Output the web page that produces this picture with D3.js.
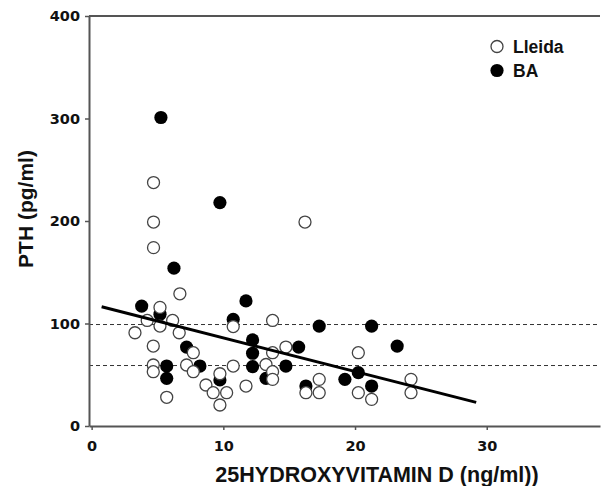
<!doctype html>
<html lang="en">
<head>
<meta charset="utf-8">
<title>PTH vs 25-hydroxyvitamin D</title>
<style>
body { margin: 0; background: #fff; }
svg text { font-family: "Liberation Sans", Arial, sans-serif; font-weight: bold; fill: #111; }
.tick text { font-family: "DejaVu Sans", sans-serif; font-size: 14.5px; }
</style>
</head>
<body>
<svg id="chart" width="602" height="486"></svg>
<script src="https://d3js.org/d3.v7.min.js"></script>
<script>
// 25OHD (ng/ml), PTH (pg/ml)
var lleidaX = [3.29, 4.22, 4.7, 4.7, 4.7, 4.68, 4.68, 4.68, 5.19, 5.19, 5.7, 6.15, 6.7, 6.65,
               7.21, 7.72, 7.72, 8.68, 9.23, 9.74, 9.74, 10.25, 10.75, 10.75, 11.72, 13.74,
               13.74, 13.24, 13.74, 13.74, 14.75, 16.2, 16.27, 17.28, 17.28, 20.25, 20.25,
               21.26, 24.25, 24.25];
var lleidaY = [91, 103, 237.5, 199, 174, 78, 59.5, 53, 115.7, 97.5, 28, 103, 129, 91,
               59.5, 71.5, 53, 40, 32.5, 51, 20.5, 32.5, 97, 58.5, 39, 103,
               71.5, 60, 53, 45.5, 77, 199, 32.5, 45.5, 32.5, 71.5, 32.5,
               26, 45.5, 32.5];
var baX = [3.8, 5.26, 5.19, 5.7, 5.7, 6.25, 7.21, 8.22, 9.74, 9.74, 10.75, 11.72, 12.22,
           12.22, 12.22, 13.24, 14.75, 15.72, 16.27, 17.28, 19.23, 20.25, 21.26, 21.26, 23.2];
var baY = [117, 301, 109, 58.5, 46.5, 154, 77, 58.5, 218, 45, 104, 122, 84,
           71, 58, 46.5, 58.5, 77, 39, 97.5, 45.5, 52, 97.5, 39, 78];

var fitIntercept = 118.8, fitSlope = -3.28, fitRange = [0.76, 29.2];
var refLines = [99, 59];
var xTicks = [0, 10, 20, 30];
var yTicks = [0, 100, 200, 300, 400];
var seriesNames = ["Lleida", "BA"];

var svg = d3.select("#chart");
var x = d3.scaleLinear().domain([-0.2, 38.6]).range([89, 600]);
var y = d3.scaleLinear().domain([0, 400]).range([426, 16]);
var r = 6.6;

// frame top line
svg.append("line")
    .attr("x1", x.range()[0]).attr("x2", x.range()[1])
    .attr("y1", y(400)).attr("y2", y(400))
    .attr("stroke", "#555").attr("stroke-width", 2);

// reference dashed lines
svg.selectAll(".ref").data(refLines).enter().append("line")
    .attr("class", "ref")
    .attr("x1", x.range()[0]).attr("x2", x.range()[1])
    .attr("y1", function(d) { return y(d); }).attr("y2", function(d) { return y(d); })
    .attr("stroke", "#333").attr("stroke-width", 1)
    .attr("stroke-dasharray", "4,3");

var ba = baX.map(function(v, i) { return [v, baY[i]]; });
var lleida = lleidaX.map(function(v, i) { return [v, lleidaY[i]]; });

svg.selectAll(".ba").data(ba).enter().append("circle")
    .attr("class", "ba")
    .attr("cx", function(d) { return x(d[0]); })
    .attr("cy", function(d) { return y(d[1]); })
    .attr("r", r)
    .attr("fill", "#000");

svg.selectAll(".lleida").data(lleida).enter().append("circle")
    .attr("class", "lleida")
    .attr("cx", function(d) { return x(d[0]); })
    .attr("cy", function(d) { return y(d[1]); })
    .attr("r", r - 0.6)
    .attr("fill", "#fff")
    .attr("stroke", "#444")
    .attr("stroke-width", 1.3);

// regression line
svg.append("line")
    .attr("x1", x(fitRange[0])).attr("y1", y(fitIntercept + fitSlope * fitRange[0]))
    .attr("x2", x(fitRange[1])).attr("y2", y(fitIntercept + fitSlope * fitRange[1]))
    .attr("stroke", "#000").attr("stroke-width", 3);

// axes
var xAxis = svg.append("g")
    .attr("transform", "translate(0," + y(0) + ")")
    .call(d3.axisBottom(x).tickValues(xTicks).tickSize(4).tickSizeOuter(0).tickPadding(11));
var yAxis = svg.append("g")
    .attr("transform", "translate(" + x.range()[0] + ",0)")
    .call(d3.axisLeft(y).tickValues(yTicks).tickSize(4).tickSizeOuter(0).tickPadding(5));
[xAxis, yAxis].forEach(function(g) {
    g.select(".domain").attr("stroke", "#555").attr("stroke-width", 2);
    g.selectAll(".tick line").attr("stroke", "#555").attr("stroke-width", 1.5);
    g.selectAll(".tick text").attr("fill", "#111");
});

// axis titles
svg.append("text")
    .attr("x", 377).attr("y", 482)
    .attr("text-anchor", "middle")
    .style("font-size", "21.5px")
    .text("25HYDROXYVITAMIN D (ng/ml))");
svg.append("text")
    .attr("transform", "translate(33,209) rotate(-90)")
    .attr("text-anchor", "middle")
    .style("font-size", "21px")
    .text("PTH (pg/ml)");

// legend
var legend = svg.append("g");
seriesNames.forEach(function(name, i) {
    var cy = 46.5 + i * 24;
    legend.append("circle")
        .attr("cx", 497).attr("cy", cy)
        .attr("r", i === 0 ? r - 0.6 : r)
        .attr("fill", i === 0 ? "#fff" : "#000")
        .attr("stroke", i === 0 ? "#444" : "none")
        .attr("stroke-width", 1.3);
    legend.append("text")
        .attr("x", 513).attr("y", cy + 6)
        .style("font-size", "17.5px")
        .text(name);
});
</script>
</body>
</html>
